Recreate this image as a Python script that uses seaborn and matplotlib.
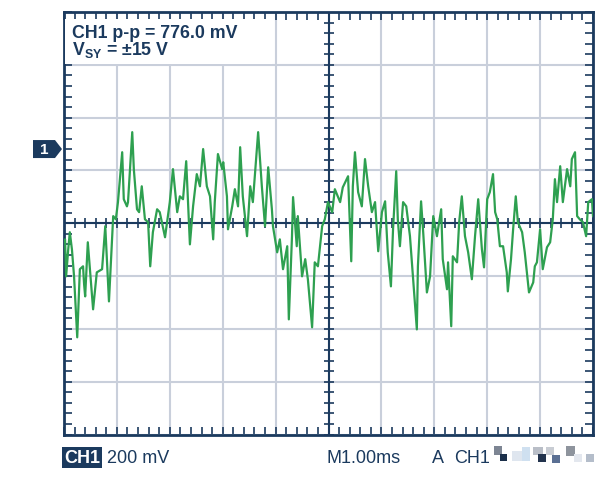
import matplotlib
matplotlib.use("Agg")
import matplotlib.pyplot as plt
import seaborn as sns
import numpy as np
import pandas as pd
from matplotlib.patches import Polygon, Rectangle
from matplotlib.transforms import blended_transform_factory

# ---- data (time in ms, CH1 in mV) ----
time_ms = [0.02, 0.04, 0.08, 0.11, 0.15, 0.19, 0.25, 0.30, 0.36, 0.38, 0.40, 0.45, 0.49, 0.55, 0.62,
           0.72, 0.78, 0.85, 0.93, 0.98, 1.02, 1.10, 1.13, 1.19, 1.21, 1.29, 1.32, 1.38, 1.42, 1.47,
           1.53, 1.59, 1.63, 1.68, 1.76, 1.81, 1.91, 2.00, 2.06, 2.14, 2.19, 2.25, 2.31, 2.38, 2.44,
           2.51, 2.57, 2.63, 2.70, 2.76, 2.82, 2.85, 2.91, 2.99, 3.01, 3.08, 3.10, 3.18, 3.23, 3.29,
           3.33, 3.38, 3.46, 3.52, 3.57, 3.67, 3.74, 3.80, 3.86, 3.93, 3.95, 4.03, 4.08, 4.14, 4.22,
           4.25, 4.31, 4.33, 4.40, 4.42, 4.50, 4.56, 4.61, 4.69, 4.74, 4.80, 4.88, 4.93, 4.99,
           5.07, 5.12, 5.22, 5.27, 5.37, 5.43, 5.46, 5.50, 5.56, 5.63, 5.69, 5.75, 5.82, 5.88, 5.94,
           6.01, 6.07, 6.12, 6.18, 6.22, 6.28, 6.31, 6.35, 6.41, 6.47, 6.54, 6.60, 6.67, 6.69, 6.75,
           6.79, 6.86, 6.92, 6.98, 7.05, 7.13, 7.16, 7.24, 7.26, 7.32, 7.35, 7.43, 7.47, 7.52, 7.58,
           7.64, 7.71, 7.77, 7.83, 7.90, 7.94, 8.00, 8.05, 8.11, 8.15, 8.19, 8.24, 8.30, 8.37, 8.39,
           8.45, 8.49, 8.54, 8.58, 8.66, 8.71, 8.79, 8.87, 8.90, 8.94, 9.00, 9.05, 9.13, 9.19, 9.24,
           9.28, 9.32, 9.38, 9.43, 9.51, 9.57, 9.60, 9.66, 9.70, 9.75, 9.81, 9.87, 9.91, 9.98, 10.00]
ch1_mv = [-61, -201, -99, -34, -99, -201, -432, -174, -163, -231, -277, -72, -174, -326, -186,
          -174, -11, -296, 27, 15, 80, 269, 91, 64, 80, 345, 205, 53, 42, 140,
          15, 4, -163, -34, 53, 42, -53, 80, 205, 42, 102, 91, 235, -80, 64,
          186, 140, 281, 140, 102, -61, 80, 262, 205, 231, 102, -23, 64, 129, 64,
          288, 102, -49, 140, 80, 345, 140, -11, 212, 53, -11, -110, -61, -174, -87,
          -364, -49, 99, -87, 27, -201, -136, -212, -394, -148, -163, -11, 15, 80,
          42, 129, 80, 136, 178, -144, 140, 269, 118, 64, 243, 140, 42, 80, -106,
          42, 83, -110, -239, -23, 197, 15, -87, 80, 64, -49, -212, -402, -163, 83,
          -34, -262, -201, 27, -49, 53, -136, -250, -148, -390, -125, -148, 4, 102, -49,
          -110, -212, -49, 91, -99, -167, 91, 118, 186, 42, 15, -87, -87, -186, -258,
          -136, -23, 102, 4, -34, -110, -262, -224, -163, -148, -23, -174, -91, -72, 15,
          167, 80, 216, 80, 205, 140, 243, 269, 27, 15, 4, -49, 80, 91, 27]

X_DIVS, Y_DIVS = 10, 8
MS_PER_DIV = 1.0
MV_PER_DIV = 200
CH1_MARKER_MV = 281

measure_text = "CH1 p-p = 776.0 mV"
supply_label = r"$\mathbf{V}_{\mathbf{SY}}$" + " = ±15 V"
scale_text = "200 mV"
timebase_text = "M1.00ms"

# ---- style ----
sns.set_style("white")
plt.rcParams["font.family"] = ["Liberation Sans", "DejaVu Sans"]
plt.rcParams["mathtext.fontset"] = "custom"
plt.rcParams["mathtext.rm"] = "Liberation Sans"
plt.rcParams["mathtext.bf"] = "Liberation Sans:bold"

NAVY = "#1b3a5e"
GRID = "#c9cfdb"
GREEN = "#2ea050"

W, H = 613, 481
fig = plt.figure(figsize=(W / 100, H / 100), dpi=100)
ax = fig.add_axes([64 / W, (H - 435.5) / H, 529 / W, 422.5 / H])

df = pd.DataFrame({"t": time_ms, "v": ch1_mv})
sns.lineplot(data=df, x="t", y="v", ax=ax, color=GREEN, lw=1.6,
             estimator=None, sort=False, zorder=4)

xmax = X_DIVS * MS_PER_DIV
ymax = Y_DIVS / 2 * MV_PER_DIV
ax.set_xlim(0, xmax)
ax.set_ylim(-ymax, ymax)
ax.set_xticks(np.arange(0, xmax + 1e-9, MS_PER_DIV))
ax.set_yticks(np.arange(-ymax, ymax + 1e-9, MV_PER_DIV))
xminor = np.arange(0, xmax + 1e-9, MS_PER_DIV / 5)
yminor = np.arange(-ymax, ymax + 1e-9, MV_PER_DIV / 5)
ax.set_xticks(xminor, minor=True)
ax.set_yticks(yminor, minor=True)
ax.grid(True, which="major", color=GRID, lw=1.5, zorder=1)
ax.tick_params(which="both", direction="in", top=True, right=True, bottom=True, left=True,
               length=6, width=1.2, color=NAVY, labelbottom=False, labelleft=False)
ax.set_xlabel("")
ax.set_ylabel("")
for s in ax.spines.values():
    s.set_color(NAVY)
    s.set_linewidth(2)

# centre cross-hair with ticks
ax.axhline(0, color=NAVY, lw=1.5, zorder=2)
ax.axvline(xmax / 2, color=NAVY, lw=1.5, zorder=2)
ax.plot(xminor, np.zeros_like(xminor), ls="none", marker="|", ms=7, mew=1.2, color=NAVY, zorder=2)
ax.plot(np.full_like(yminor, xmax / 2), yminor, ls="none", marker="_", ms=7, mew=1.2, color=NAVY, zorder=2)

# white panel behind the measurement readout
fig.add_artist(Rectangle((65.2 / W, 1 - 64.5 / H), (272 - 65.2) / W, (64.5 - 20) / H,
                         transform=fig.transFigure, fc="white", ec="none", zorder=3))

# channel 1 marker
tr = blended_transform_factory(fig.transFigure, ax.transData)
hh = 9 * (2 * ymax) / 422.5
poly = Polygon([(33 / W, CH1_MARKER_MV - hh), (55 / W, CH1_MARKER_MV - hh), (62 / W, CH1_MARKER_MV),
                (55 / W, CH1_MARKER_MV + hh), (33 / W, CH1_MARKER_MV + hh)],
               closed=True, transform=tr, fc=NAVY, ec="none", clip_on=False)
fig.add_artist(poly)
fig.text(44 / W, CH1_MARKER_MV, "1", transform=tr, color="white", fontsize=11, fontweight="bold",
         ha="center", va="center")

# measurement text (two lines in one text object)
fig.text(72 / W, 1 - 25.5 / H, measure_text + "\n" + supply_label, fontsize=12.8, fontweight="bold",
         color=NAVY, va="top", ha="left", linespacing=0.82, zorder=5)

# bottom status line
by = 1 - 463 / H
fig.text(64 / W, by, "CH1", fontsize=13, fontweight="bold", color="white", va="baseline",
         bbox=dict(boxstyle="square,pad=0.12", fc=NAVY, ec="none"))
fig.text(107 / W, by, scale_text, fontsize=13, color=NAVY, va="baseline")
fig.text(327 / W, by, timebase_text, fontsize=13, color=NAVY, va="baseline")
fig.text(432 / W, by, "A", fontsize=13, color=NAVY, va="baseline")
fig.text(454 / W, by, "CH1", fontsize=13, color=NAVY, va="baseline")

# pixelated (redacted) trigger level
blocks = [(494, 447, 8, 9, "#7d8593"), (500, 455, 7, 7, "#1b2f4a"), (512, 452, 10, 10, "#dfe6ef"),
          (522, 448, 8, 14, "#cfe0f0"), (533, 448, 10, 8, "#b9bec7"), (538, 455, 8, 8, "#22334d"),
          (546, 448, 8, 8, "#c8ccd3"), (552, 456, 8, 8, "#5a6f93"), (566, 447, 9, 10, "#8e949d"),
          (574, 455, 8, 8, "#e3e7ee"), (586, 455, 8, 8, "#b4bdca")]
for (bx, byy, bw, bh, c) in blocks:
    fig.add_artist(Rectangle((bx / W, 1 - (byy + bh) / H), bw / W, bh / H,
                             transform=fig.transFigure, fc=c, ec="none"))

fig.savefig("out.png", dpi=100)
